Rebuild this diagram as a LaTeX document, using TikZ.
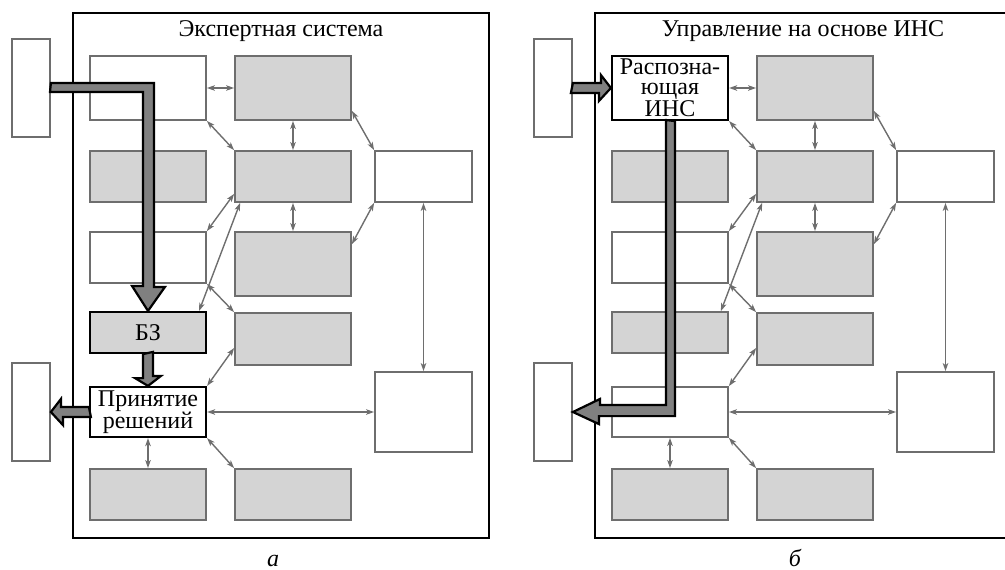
\documentclass[tikz,border=0pt]{standalone}
\usepackage{fontspec}
\setmainfont{Liberation Serif}
\usetikzlibrary{arrows.meta, calc}

\definecolor{boxline}{RGB}{110,110,110}
\definecolor{boxfill}{RGB}{212,212,212}
\definecolor{fatfill}{RGB}{128,128,128}

\begin{document}
\begin{tikzpicture}[x=1pt, y=-1pt,
        font=\fontsize{24}{20}\selectfont,
        box/.style={draw=boxline, line width=1.8pt, minimum width=116pt, inner sep=0pt, align=center},
        wbox/.style={box, fill=white},
        gbox/.style={box, fill=boxfill},
        keyw/.style={box, draw=black, line width=2.2pt, fill=white},
        keyg/.style={keyw, fill=boxfill},
        ext/.style={draw=boxline, line width=1.8pt, fill=white, minimum width=38pt, minimum height=98pt},
        frame/.style={draw=black, line width=2pt},
        link/.style={draw=boxline, line width=1.4pt,
            {Stealth[length=8pt,width=5.5pt,inset=2pt]}-{Stealth[length=8pt,width=5.5pt,inset=2pt]}},
        fat/.style={draw=black, line width=2.2pt, fill=fatfill, line join=miter}]
    \useasboundingbox (0,0) rectangle (1005,570);
    \foreach \p/\dx/\ttl/\lbl/\sa/\ta/\sd/\td/\se/\te in {
        a/0/{Экспертная система}/{а}/wbox/{}/keyg/{БЗ}/keyw/{Принятие\\решений},
        b/522/{Управление на основе ИНС}/{б}/keyw/{Распозна-\\ющая\\ИНС}/gbox/{}/wbox/{}}
    {
    \begin{scope}[xshift=\dx pt]
        \draw[frame] (73,13) rectangle (489,538);
        \node (\p-title) at (281,31) {\ttl};
        \node[font=\fontsize{24}{24}\selectfont\itshape, anchor=base, inner sep=0pt] (\p-lbl) at (273,566) {\lbl};
        \node[ext] (\p-in) at (31,88) {};
        \node[ext] (\p-out) at (31,412) {};
        % first column
        \node[\sa, minimum height=64pt] (\p-c11) at (148,88) {\ta};
        \node[gbox, minimum height=51pt] (\p-c21) at (148,176.5) {};
        \node[wbox, minimum height=51pt] (\p-c31) at (148,257.5) {};
        \node[\sd, minimum height=41pt] (\p-c41) at (148,332.5) {\td};
        \node[\se, minimum height=50pt] (\p-c51) at (148,412) {\te};
        \node[gbox, minimum height=51pt] (\p-c61) at (148,494.5) {};
        % second column
        \node[gbox, minimum height=64pt] (\p-d1) at (293,88) {};
        \node[gbox, minimum height=51pt] (\p-d2) at (293,176.5) {};
        \node[gbox, minimum height=64pt] (\p-d3) at (293,264) {};
        \node[gbox, minimum height=52pt] (\p-d4) at (293,339) {};
        \node[gbox, minimum height=51pt] (\p-d5) at (293,494.5) {};
        % third column
        \node[wbox, minimum width=97pt, minimum height=51pt] (\p-e1) at (423.5,176.5) {};
        \node[wbox, minimum width=97pt, minimum height=80pt] (\p-e2) at (423.5,412) {};
        % links
        \draw[link] (\p-c11.east) -- (\p-d1.west);
        \draw[link] (\p-c11.south east) -- (\p-d2.north west);
        \draw[link] (\p-d1.south) -- (\p-d2.north);
        \draw[link] ([yshift=10pt]\p-d1.south east) -- (\p-e1.north west);
        \draw[link] (\p-d2.south) -- (\p-d3.north);
        \draw[link] (\p-e1.south west) -- ([yshift=-13pt]\p-d3.north east);
        \draw[link] (\p-c31.north east) -- ([yshift=9pt]\p-d2.south west);
        \draw[link] ([xshift=6pt]\p-d2.south west) -- ([xshift=-8pt]\p-c41.north east);
        \draw[link] (\p-c31.south east) -- (\p-d4.north west);
        \draw[link] ([yshift=-9pt]\p-d4.west) -- (\p-c51.north east);
        \draw[link] (\p-c51.east) -- (\p-e2.west);
        \draw[link] (\p-c51.south) -- (\p-c61.north);
        \draw[link] (\p-c51.south east) -- (\p-d5.north west);
        \draw[link] (\p-e1.south) -- (\p-e2.north);
    \end{scope}
    }
    % expert system: input -> БЗ -> decision -> output
    \draw[fat] (a-in.east) ++(0,-5) -- ++(103,0) -- ++(0,204) -- ++(11,0) -- (a-c41.north)
        -- ++(-16,-25) -- ++(11,0) -- ++(0,-194) -- ++(-93,0) -- cycle;
    \draw[fat] (a-c41.south) ++(-5,0) -- ++(0,24) -- ++(-8,0) -- (a-c51.north)
        -- ++(13,-10) -- ++(-8,0) -- ++(0,-24) -- cycle;
    \draw[fat] (a-c51.west) ++(0,-5) -- ++(-28,0) -- ++(0,-8) -- (a-out.east)
        -- ++(12,13) -- ++(0,-8) -- ++(28,0) -- cycle;
    % neural control: input -> recognizing net -> output
    \draw[fat] (b-in.east) ++(0,-5) -- ++(28,0) -- ++(0,-8) -- (b-c11.west)
        -- ++(-12,13) -- ++(0,-8) -- ++(-28,0) -- cycle;
    \draw[fat] (b-c11.south) ++(5,0) -- ++(0,295) -- ++(-76,0) -- ++(0,8) -- (b-out.east)
        -- ++(27,-13) -- ++(0,6) -- ++(66,0) -- ++(0,-285) -- cycle;
\end{tikzpicture}
\end{document}
